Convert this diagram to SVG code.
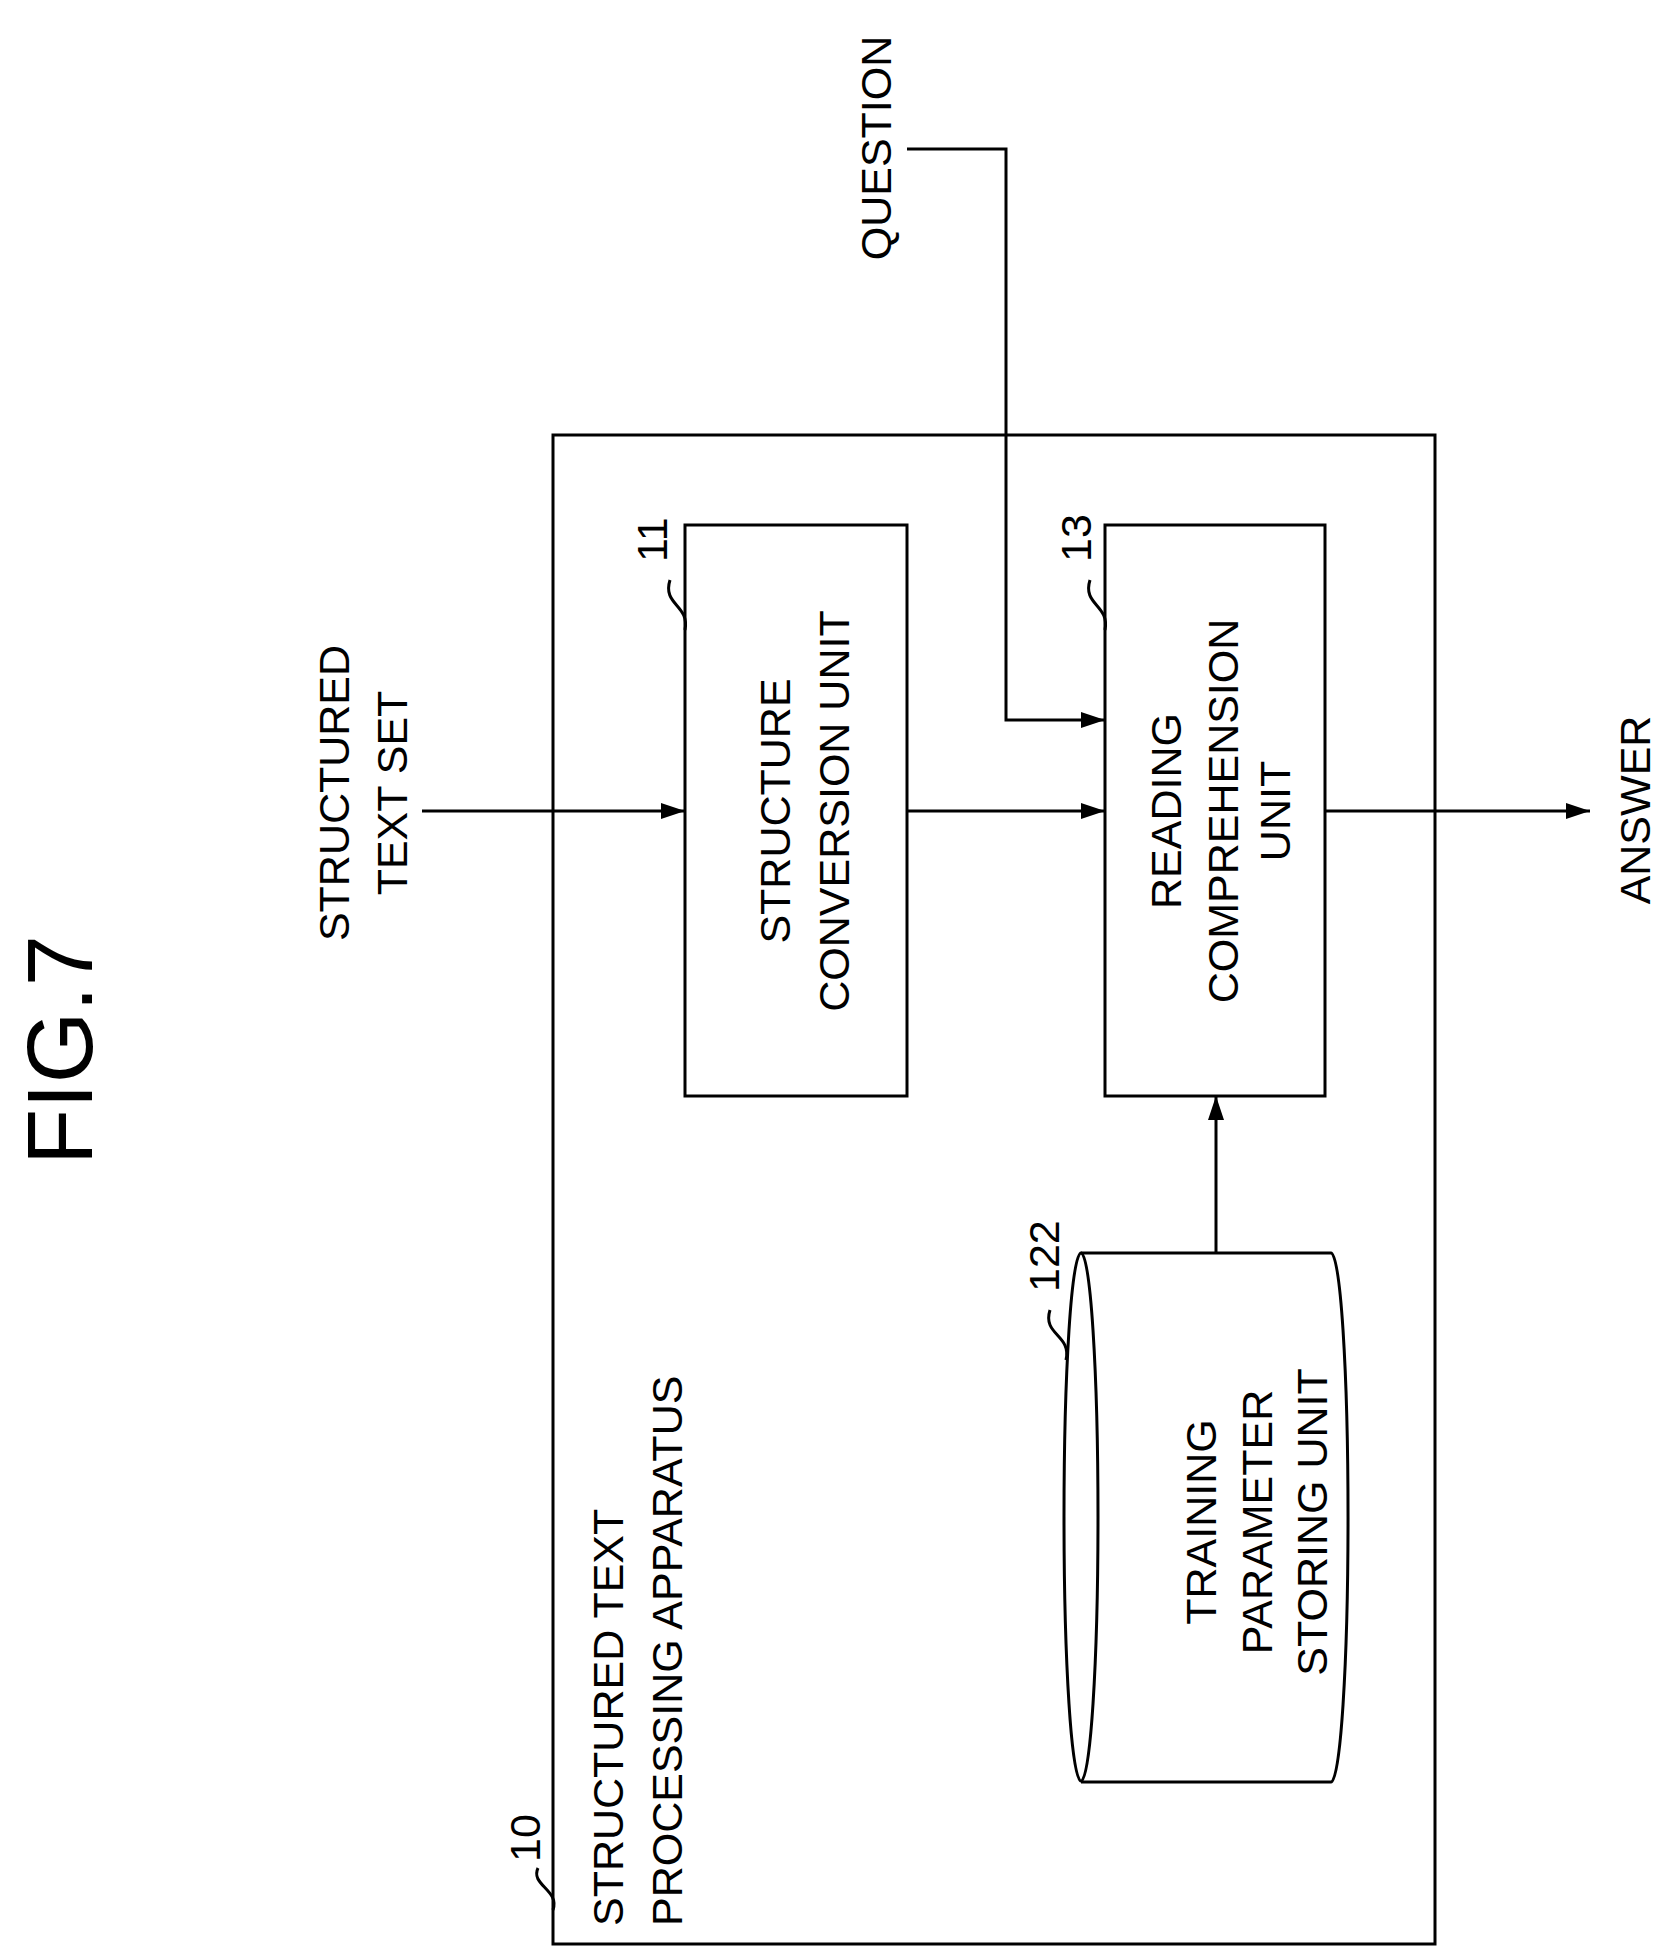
<svg xmlns="http://www.w3.org/2000/svg" width="1679" height="1949" viewBox="0 0 1679 1949">
<style>
.t{font-family:"Liberation Sans",Arial,sans-serif;font-size:43px;fill:#000}
.s{fill:none;stroke:#000;stroke-width:3}
</style>
<defs><marker id="b" viewBox="0 0 10 10" refX="10" refY="5" markerWidth="24" markerHeight="16" markerUnits="userSpaceOnUse" orient="auto" preserveAspectRatio="none"><path d="M0,0 L10,5 L0,10 z"/></marker></defs>
<rect width="1679" height="1949" fill="#fff"/>
<text class="t" style="font-size:92px" transform="translate(92,1050) rotate(-90)" text-anchor="middle">FIG.7</text>
<g id="n10"><rect class="s" x="553" y="435" width="882" height="1509"/>
<text class="t" transform="translate(623,1926) rotate(-90)">STRUCTURED TEXT</text>
<text class="t" transform="translate(682,1926) rotate(-90)">PROCESSING APPARATUS</text>
<path class="s" d="M553,1910 C560,1890 530,1885 538,1868" stroke-width="2"/>
<text class="t" transform="translate(540,1862) rotate(-90)">10</text></g>
<g id="n11"><rect class="s" x="685" y="525" width="222" height="571"/>
<text class="t" transform="translate(790,811) rotate(-90)" text-anchor="middle">STRUCTURE</text>
<text class="t" transform="translate(849,811) rotate(-90)" text-anchor="middle">CONVERSION UNIT</text>
<path class="s" d="M685,630 C690,605 662,605 670,580" stroke-width="2"/>
<text class="t" transform="translate(667,562) rotate(-90)">11</text></g>
<g id="n13"><rect class="s" x="1105" y="525" width="220" height="571"/>
<text class="t" transform="translate(1181,811) rotate(-90)" text-anchor="middle">READING</text>
<text class="t" transform="translate(1238,811) rotate(-90)" text-anchor="middle">COMPREHENSION</text>
<text class="t" transform="translate(1290,811) rotate(-90)" text-anchor="middle">UNIT</text>
<path class="s" d="M1105,630 C1110,605 1082,605 1090,580" stroke-width="2"/>
<text class="t" transform="translate(1091,562) rotate(-90)">13</text></g>
<g id="n122"><path class="s" d="M1081,1253 L1331,1253 A17,264 0 0 1 1331,1782 L1081,1782"/>
<ellipse class="s" cx="1081" cy="1517" rx="17" ry="264"/>
<text class="t" transform="translate(1216,1522) rotate(-90)" text-anchor="middle">TRAINING</text>
<text class="t" transform="translate(1272,1522) rotate(-90)" text-anchor="middle">PARAMETER</text>
<text class="t" transform="translate(1327,1522) rotate(-90)" text-anchor="middle">STORING UNIT</text>
<path class="s" d="M1066,1360 C1072,1335 1042,1335 1050,1310" stroke-width="2"/>
<text class="t" transform="translate(1059,1292) rotate(-90)">122</text></g>
<g id="labels">
<text class="t" transform="translate(349,793) rotate(-90)" text-anchor="middle">STRUCTURED</text>
<text class="t" transform="translate(407,793) rotate(-90)" text-anchor="middle">TEXT SET</text>
<text class="t" transform="translate(891,148) rotate(-90)" text-anchor="middle">QUESTION</text>
<text class="t" transform="translate(1650,810) rotate(-90)" text-anchor="middle">ANSWER</text></g>
<g id="connectors">
<path class="s" d="M422,811 H685" marker-end="url(#b)"/>
<path class="s" d="M907,811 H1105" marker-end="url(#b)"/>
<path class="s" d="M907,149 H1006 V720 H1105" marker-end="url(#b)"/>
<path class="s" d="M1325,811 H1590" marker-end="url(#b)"/>
<path class="s" d="M1216,1253 V1096" marker-end="url(#b)"/>
</g>
</svg>
